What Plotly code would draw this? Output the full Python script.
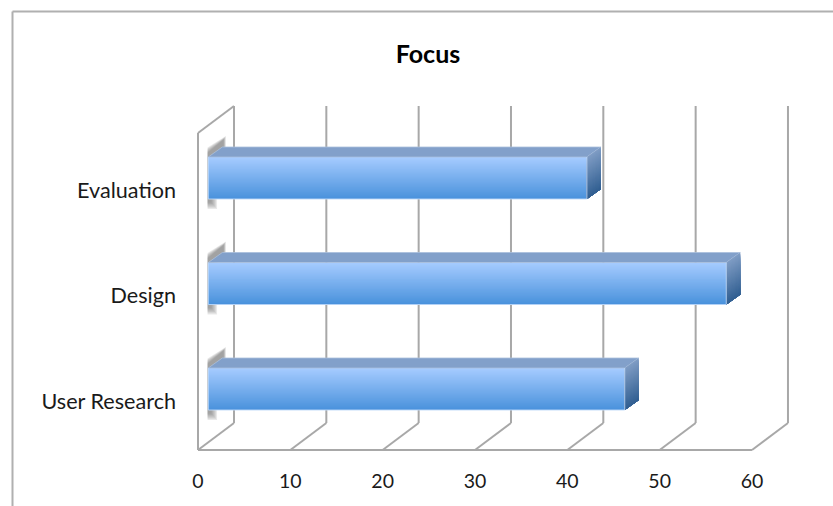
import plotly.graph_objects as go

categories = ["User Research", "Design", "Evaluation"]
focus_values = [45.1, 56.1, 41.0]
x_ticks = [0, 10, 20, 30, 40, 50, 60]
chart_title = "Focus"

WIDTH, HEIGHT = 833, 506
FONT = "Lato"
TEXT = "#1a1a1a"
GRID = "#a8a8a8"

# Scale of the front plane: pixels per axis unit
PX_X = 9.233
PX_Y = 105.5
X0_PX, Y0_PX = 198, 401
FLOOR_Y = -(450 - Y0_PX) / PX_Y
WALL_TOP_Y = (Y0_PX - 133) / PX_Y
x_range = [-X0_PX / PX_X, (WIDTH - X0_PX) / PX_X]
y_range = [-(HEIGHT - Y0_PX) / PX_Y, Y0_PX / PX_Y]

# Oblique projection offsets, in axis units
WALL_DX, WALL_DY = 36 / PX_X, 27 / PX_Y
BAR_START = 10.3 / PX_X
BAR_CENTRE_SHIFT = 12 / PX_Y
BAR_HEIGHT = 42 / PX_Y
BAR_DX, BAR_DY = 14 / PX_X, 10 / PX_Y

BANDS = 42


def mix(a, b, t):
    return "rgb(%d,%d,%d)" % tuple(round(a[i] + (b[i] - a[i]) * t) for i in range(3))


def line_shape(x0, y0, x1, y1):
    return dict(type="line", xref="x", yref="y", x0=x0, y0=y0, x1=x1, y1=y1,
                layer="below", line=dict(color=GRID, width=2))


shapes = []

# Chart frame: top and left edges only
for x0, x1, y0, y1 in [(12.5 / WIDTH, 1, 1 - 11.5 / HEIGHT, 1 - 11.5 / HEIGHT),
                       (12.5 / WIDTH, 12.5 / WIDTH, 0, 1 - 11.5 / HEIGHT)]:
    shapes.append(dict(type="line", xref="paper", yref="paper", x0=x0, x1=x1, y0=y0, y1=y1,
                       layer="below", line=dict(color="#b0b0b0", width=2)))

# Floor front edge, left wall and back wall gridlines
shapes.append(line_shape(x_ticks[0], FLOOR_Y, x_ticks[-1], FLOOR_Y))
shapes.append(line_shape(0, FLOOR_Y, 0, WALL_TOP_Y))
shapes.append(line_shape(0, WALL_TOP_Y, WALL_DX, WALL_TOP_Y + WALL_DY))
for tick in x_ticks:
    shapes.append(line_shape(tick, FLOOR_Y, tick + WALL_DX, FLOOR_Y + WALL_DY))
    shapes.append(line_shape(tick + WALL_DX, FLOOR_Y + WALL_DY, tick + WALL_DX, WALL_TOP_Y + WALL_DY))

# Soft shadow where each bar meets the side wall, built from nested translucent polygons
for i in range(len(categories)):
    c = i + BAR_CENTRE_SHIFT
    top = c + BAR_HEIGHT / 2
    bot = c - BAR_HEIGHT / 2
    sx = BAR_START
    for k in range(6):
        g = k / 5
        wing_x = sx + (1.9 - 0.25 * g)
        wing_hi = top + (0.20 - 0.035 * g)
        wing_lo = top + (0.08 + 0.01 * g)
        tail = bot - (0.095 - 0.06 * g)
        tail_w = 0.95 - 0.6 * g
        path = (f"M {sx - 0.08} {top + 0.09 - 0.01 * k} L {wing_x} {wing_hi} L {wing_x} {wing_lo} "
                f"L {sx + tail_w} {top} L {sx + tail_w} {tail} L {sx - 0.08} {tail} Z")
        shapes.append(dict(type="path", xref="x", yref="y", path=path, layer="below",
                           opacity=0.15, fillcolor="#6e6e6e", line=dict(width=0)))

fig = go.Figure()

# Front faces: each bar paints over the previous one from its lower edge, leaving a smooth ramp
top_col, bot_col = (165, 203, 255), (74, 146, 220)
for b in range(BANDS):
    t = b / (BANDS - 1)
    band_top = BAR_HEIGHT * (1 - b / BANDS)
    fig.add_trace(go.Bar(
        y=list(range(len(categories))), x=focus_values, base=BAR_START,
        orientation="h", width=band_top,
        offset=BAR_CENTRE_SHIFT - BAR_HEIGHT / 2,
        marker=dict(color=mix(top_col, bot_col, t), line=dict(width=0)),
        showlegend=False, hoverinfo="skip", cliponaxis=False,
    ))

# Top and right faces of each bar, plus a pale edge around the front face
side_top, side_bot = (127, 156, 196), (50, 96, 146)
for i, v in enumerate(focus_values):
    c = i + BAR_CENTRE_SHIFT
    top = c + BAR_HEIGHT / 2
    bot = c - BAR_HEIGHT / 2
    right = BAR_START + v
    fig.add_trace(go.Scatter(
        x=[BAR_START, right, right + BAR_DX, BAR_START + BAR_DX, BAR_START],
        y=[top, top, top + BAR_DY, top + BAR_DY, top],
        fill="toself", fillcolor="#82a0ca", mode="lines",
        line=dict(color="#a9bfdc", width=0.8), showlegend=False, hoverinfo="skip",
    ))
    for b in range(BANDS):
        s0 = top - BAR_HEIGHT * b / BANDS
        col = mix(side_top, side_bot, b / (BANDS - 1))
        fig.add_trace(go.Scatter(
            x=[right, right + BAR_DX, right + BAR_DX, right, right],
            y=[s0, s0 + BAR_DY, bot + BAR_DY, bot, s0],
            fill="toself", fillcolor=col, mode="lines",
            line=dict(width=0), showlegend=False, hoverinfo="skip",
        ))
    fig.add_trace(go.Scatter(
        x=[BAR_START, BAR_START, right, right],
        y=[top, bot, bot, top],
        mode="lines", line=dict(color="rgba(190,216,248,0.9)", width=1),
        showlegend=False, hoverinfo="skip",
    ))

fig.update_layout(
    width=WIDTH, height=HEIGHT,
    margin=dict(l=0, r=0, t=0, b=0),
    paper_bgcolor="white", plot_bgcolor="white",
    barmode="overlay", showlegend=False,
    font=dict(family=FONT, size=20, color=TEXT),
    title=dict(text=f"<b>{chart_title}</b>", x=428 / WIDTH, xanchor="center",
               y=1 - 54 / HEIGHT, yanchor="middle",
               font=dict(family=FONT, size=25, color="#000000")),
    shapes=shapes,
    xaxis=dict(range=x_range, tickmode="array", tickvals=x_ticks, ticktext=[str(t) for t in x_ticks],
               showgrid=False, zeroline=False, showline=False, ticks="",
               anchor="free", position=(HEIGHT - 450) / HEIGHT, ticklabelstandoff=17,
               tickfont=dict(family=FONT, size=19.5, color=TEXT)),
    yaxis=dict(range=y_range, tickmode="array", tickvals=list(range(len(categories))),
               ticktext=categories, showgrid=False, zeroline=False, showline=False, ticks="",
               anchor="free", position=X0_PX / WIDTH, ticklabelstandoff=22,
               tickfont=dict(family=FONT, size=21.6, color=TEXT)),
)

fig.write_html("out.html", config=dict(displayModeBar=False))
